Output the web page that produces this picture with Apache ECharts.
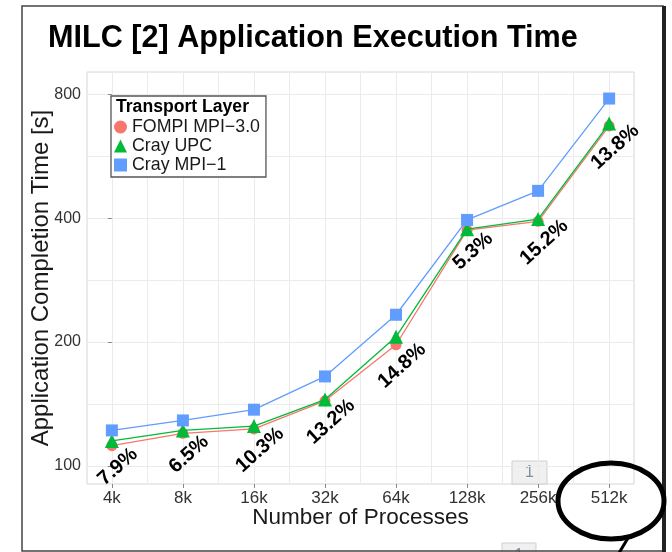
<!DOCTYPE html>
<html>
<head>
<meta charset="utf-8">
<script src="https://cdn.jsdelivr.net/npm/echarts@6/dist/echarts.min.js"></script>
<style>
html,body{margin:0;padding:0;background:#fff;}
#chart{width:672px;height:552px;}
</style>
</head>
<body>
<div id="chart"></div>
<script>
// ---- data ----
var categories = ['4k', '8k', '16k', '32k', '64k', '128k', '256k', '512k'];
var fompi = [112, 120, 123, 144, 197, 374, 393, 670];   // FOMPI MPI-3.0
var crayUpc = [115, 122, 125, 145, 206, 376, 398, 679]; // Cray UPC
var crayMpi1 = [122, 129, 137, 165, 233, 396, 466, 781]; // Cray MPI-1
var improvement = ['7.9%', '6.5%', '10.3%', '13.2%', '14.8%', '5.3%', '15.2%', '13.8%'];
var yTicks = [100, 200, 400, 800];
var seriesNames = ['FOMPI MPI\u22123.0', 'Cray UPC', 'Cray MPI\u22121'];

// ---- helpers ----
function pairs(arr) { return arr.map(function (v, i) { return [i, v]; }); }
var xMajor = categories.map(function (c, i) { return i; });
var xGrid = [];
xMajor.forEach(function (i) { xGrid.push(i); if (i < xMajor.length - 1) xGrid.push(i + 0.5); });
var yGrid = [];
yTicks.forEach(function (v, i) { yGrid.push(v); if (i < yTicks.length - 1) yGrid.push(Math.sqrt(v * yTicks[i + 1])); });

var FONT = '"Liberation Sans", Arial, Helvetica, sans-serif';
var colors = ['#F8766D', '#00BA38', '#619CFF'];

var chart = echarts.init(document.getElementById('chart'), null, { renderer: 'canvas' });

var ang = 42 * Math.PI / 180;
var want = [6, 21];
var lblOffset = [want[0] * Math.cos(ang) - want[1] * Math.sin(ang), want[0] * Math.sin(ang) + want[1] * Math.cos(ang)];

var option = {
  animation: false,
  backgroundColor: '#ffffff',
  title: {
    text: 'MILC [2] Application Execution Time',
    left: 43, top: 18,
    textStyle: { fontFamily: FONT, fontSize: 30.6, fontWeight: 'bold', color: '#000' }
  },
  grid: {
    left: 87, right: 38, top: 72, bottom: 68,
    show: true, backgroundColor: '#fff', borderColor: '#d6d6d6', borderWidth: 1
  },
  legend: {
    orient: 'vertical', left: 111, top: 96,
    padding: [22, 6, 3, 3],
    itemWidth: 13, itemHeight: 13, itemGap: 1,
    backgroundColor: '#fff', borderColor: '#555', borderWidth: 1.3,
    textStyle: { fontFamily: FONT, fontSize: 17.8, lineHeight: 17, color: '#1a1a1a' },
    data: [
      { name: seriesNames[0], icon: 'circle' },
      { name: seriesNames[1], icon: 'triangle' },
      { name: seriesNames[2], icon: 'rect' }
    ],
    z: 10
  },
  xAxis: [
    {
      type: 'value', min: -0.35, max: 7.35, position: 'bottom',
      axisLine: { show: false }, axisLabel: { show: false },
      axisTick: { show: false, customValues: xGrid },
      splitLine: { show: true, lineStyle: { color: '#ebebeb', width: 1 } }
    },
    {
      type: 'value', min: -0.35, max: 7.35, position: 'bottom', offset: 0,
      axisLine: { show: false },
      axisTick: { show: true, customValues: xMajor, length: 4, lineStyle: { color: '#888' } },
      axisLabel: {
        show: true, customValues: xMajor, margin: 6,
        fontFamily: FONT, fontSize: 17, color: '#333',
        formatter: function (v) { return categories[Math.round(v)]; }
      },
      splitLine: { show: false },
      name: 'Number of Processes', nameLocation: 'middle', nameGap: 22, nameMoveOverlap: false,
      nameTextStyle: { fontFamily: FONT, fontSize: 22.5, color: '#1a1a1a' }
    }
  ],
  yAxis: [
    {
      type: 'log', logBase: 2, min: 90.4, max: 906, position: 'left',
      axisLine: { show: false }, axisLabel: { show: false },
      axisTick: { show: false, customValues: yGrid },
      splitLine: { show: true, lineStyle: { color: '#ebebeb', width: 1 } }
    },
    {
      type: 'log', logBase: 2, min: 90.4, max: 906, position: 'left', offset: 0,
      axisLine: { show: false },
      axisTick: { show: true, customValues: yTicks, length: 4, lineStyle: { color: '#888' } },
      axisLabel: {
        show: true, customValues: yTicks, margin: 6,
        fontFamily: FONT, fontSize: 16, color: '#333',
        formatter: function (v) { return String(Math.round(v)); }
      },
      splitLine: { show: false },
      name: 'Application Completion Time [s]', nameLocation: 'middle', nameGap: 34, nameRotate: 90,
      nameMoveOverlap: false,
      nameTextStyle: { fontFamily: FONT, fontSize: 24, color: '#1a1a1a' }
    }
  ],
  series: [
    {
      name: seriesNames[0], type: 'line', xAxisIndex: 0, yAxisIndex: 0,
      data: pairs(fompi), symbol: 'circle', symbolSize: 11,
      itemStyle: { color: colors[0] }, lineStyle: { color: colors[0], width: 1.3 },
      label: {
        show: true, position: 'inside', rotate: 42,
        align: 'center', verticalAlign: 'middle',
        offset: lblOffset,
        fontFamily: FONT, fontSize: 20, fontWeight: 'bold', color: '#000',
        formatter: function (p) { return improvement[p.dataIndex]; }
      },
      z: 3
    },
    {
      name: seriesNames[1], type: 'line', xAxisIndex: 0, yAxisIndex: 0,
      data: pairs(crayUpc), symbol: 'triangle', symbolSize: 14,
      itemStyle: { color: colors[1] }, lineStyle: { color: colors[1], width: 1.3 },
      z: 4
    },
    {
      name: seriesNames[2], type: 'line', xAxisIndex: 0, yAxisIndex: 0,
      data: pairs(crayMpi1), symbol: 'rect', symbolSize: 12,
      itemStyle: { color: colors[2] }, lineStyle: { color: colors[2], width: 1.3 },
      z: 5
    }
  ],
  graphic: [
    { type: 'text', left: 116, top: 98, z: 20,
      style: { text: 'Transport Layer', font: 'bold 17.6px ' + FONT, fill: '#000' } },
    // slide frame
    { type: 'rect', shape: { x: 22, y: 6, width: 641, height: 545 },
      style: { fill: 'none', stroke: '#444', lineWidth: 1.5 }, z: 30 },
    { type: 'line', shape: { x1: 664, y1: 6, x2: 664, y2: 552 },
      style: { stroke: '#222', lineWidth: 4 }, z: 30 },
    // page-number boxes
    { type: 'group', z: 30, children: [
      { type: 'rect', shape: { x: 512, y: 461, width: 35, height: 23 },
        style: { fill: '#f0f0f0', stroke: '#cfcfcf', lineWidth: 1 } },
      { type: 'text', x: 529.5, y: 472.5,
        style: { text: '1', font: '16px ' + FONT, fill: '#7d8fa3', align: 'center', verticalAlign: 'middle' } },
      { type: 'rect', shape: { x: 502, y: 543, width: 34, height: 20 },
        style: { fill: '#f0f0f0', stroke: '#cfcfcf', lineWidth: 1 } },
      { type: 'text', x: 519, y: 556,
        style: { text: '1', font: '16px ' + FONT, fill: '#7d8fa3', align: 'center', verticalAlign: 'middle' } }
    ] },
    // hand-drawn circle annotation
    { type: 'ellipse', shape: { cx: 611, cy: 501, rx: 53, ry: 38 },
      style: { fill: 'none', stroke: '#000', lineWidth: 5 }, z: 31 },
    { type: 'line', shape: { x1: 628, y1: 538, x2: 619, y2: 553 },
      style: { stroke: '#000', lineWidth: 3 }, z: 31 }
  ]
};
chart.setOption(option);
</script>
</body>
</html>
